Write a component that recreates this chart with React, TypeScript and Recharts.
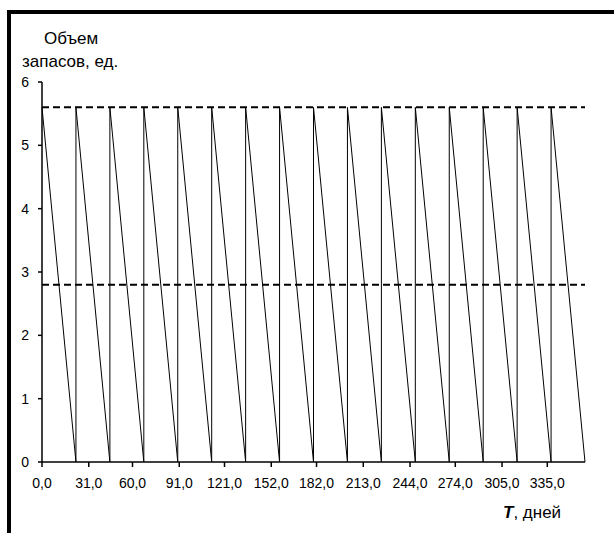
import React from 'react';
import { LineChart, Line, XAxis, YAxis, ReferenceLine } from 'recharts';

// Sawtooth inventory: time points (days) and stock levels
const sawDays = [
  0, 22.5, 22.5, 45, 45, 67.5, 67.5, 90, 90, 112.5, 112.5, 135, 135, 157.5, 157.5,
  180, 180, 202.5, 202.5, 225, 225, 247.5, 247.5, 270, 270, 292.5, 292.5, 315, 315,
  337.5, 337.5, 360,
];
const sawStock = [
  5.6, 0, 5.6, 0, 5.6, 0, 5.6, 0, 5.6, 0, 5.6, 0, 5.6, 0, 5.6,
  0, 5.6, 0, 5.6, 0, 5.6, 0, 5.6, 0, 5.6, 0, 5.6, 0, 5.6,
  0, 5.6, 0,
];
const maxLevel = 5.6;
const reorderLevel = 2.8;
const xTicks = [0, 31, 60, 91, 121, 152, 182, 213, 244, 274, 305, 335];
const yTicks = [0, 1, 2, 3, 4, 5, 6];
const yTitle = ['Объем', 'запасов, ед.'];
const xTitleBold = 'T';
const xTitleRest = ', дней';

const data = sawDays.map((t, i) => ({ t, v: sawStock[i] }));

const FONT = 'Arial, "Liberation Sans", sans-serif';

export default function App() {
  return (
    <div style={{ position: 'absolute', left: 0, top: 0, width: 614, height: 533, background: '#fff', overflow: 'hidden', fontFamily: FONT }}>
      <div style={{ position: 'absolute', left: 7, top: 10, width: 640, height: 560, borderTop: '4px solid #000', borderLeft: '4px solid #000' }} />
      <div style={{ position: 'absolute', left: 44, top: 29, fontSize: 17, lineHeight: '20px', color: '#000', whiteSpace: 'nowrap' }}>{yTitle[0]}</div>
      <div style={{ position: 'absolute', left: 22, top: 52, fontSize: 17, lineHeight: '20px', color: '#000', whiteSpace: 'nowrap' }}>{yTitle[1]}</div>
      <div style={{ position: 'absolute', left: 503, top: 503, fontSize: 17, lineHeight: '20px', color: '#000', whiteSpace: 'nowrap' }}>
        <b><i>{xTitleBold}</i></b>{xTitleRest}
      </div>
      <div style={{ position: 'absolute', left: 0, top: 0 }}>
        <LineChart width={614} height={533} data={data} margin={{ top: 82, right: 29, bottom: 41, left: 0 }}>
          <XAxis
            dataKey="t"
            type="number"
            domain={[0, 360]}
            ticks={xTicks}
            interval={0}
            tickFormatter={(v: number) => v.toFixed(1).replace('.', ',')}
            axisLine={{ stroke: '#000', strokeWidth: 1.5 }}
            tickLine={{ stroke: '#000', strokeWidth: 1.5 }}
            tickSize={5}
            tickMargin={11}
            height={30}
            tick={{ fill: '#000', fontSize: 14, fontFamily: FONT }}
          />
          <YAxis
            type="number"
            domain={[0, 6]}
            ticks={yTicks}
            interval={0}
            axisLine={{ stroke: '#000', strokeWidth: 1.5 }}
            tickLine={{ stroke: '#000', strokeWidth: 1.5 }}
            tickSize={4}
            tickMargin={9}
            width={42}
            tick={{ fill: '#000', fontSize: 14, fontFamily: FONT }}
          />
          <ReferenceLine y={maxLevel} stroke="#000" strokeWidth={2} strokeDasharray="7 4" />
          <ReferenceLine y={reorderLevel} stroke="#000" strokeWidth={2} strokeDasharray="7 4" />
          <Line type="linear" dataKey="v" stroke="#000" strokeWidth={1} dot={false} isAnimationActive={false} />
        </LineChart>
      </div>
    </div>
  );
}
